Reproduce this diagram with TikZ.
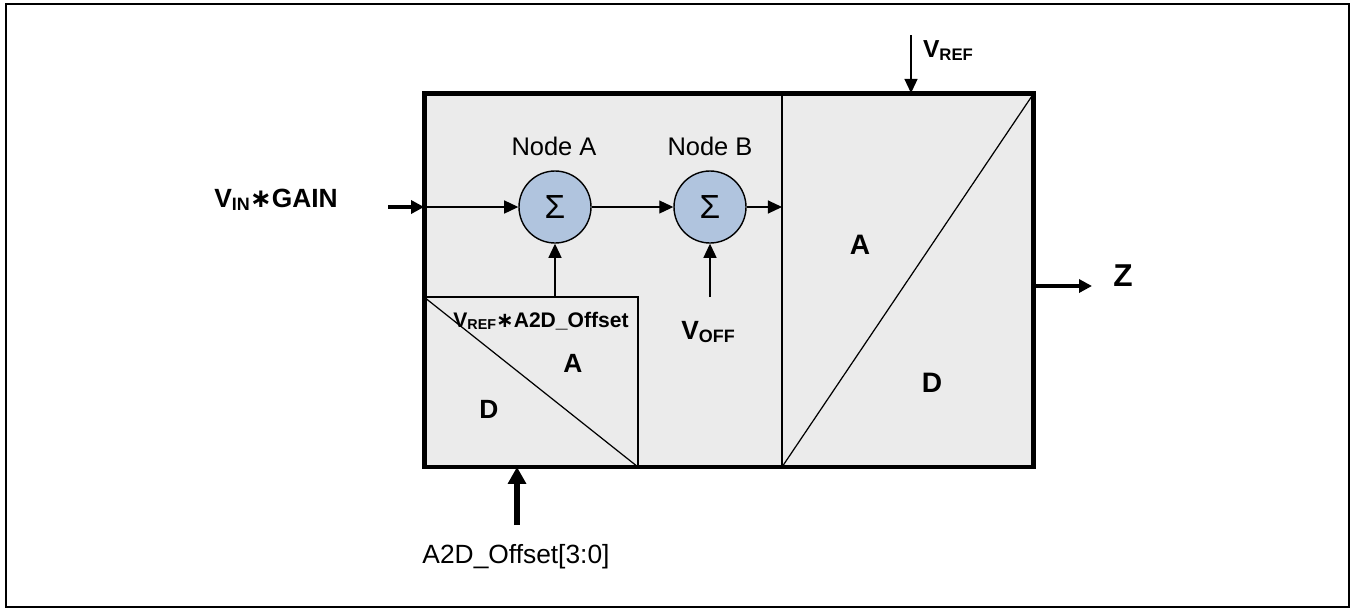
\documentclass[tikz,border=0pt]{standalone}
\usepackage{fontspec}
\setmainfont{Liberation Sans}
\newfontfamily\symfont{DejaVu Sans}
\usetikzlibrary{arrows.meta}
\definecolor{boxgray}{RGB}{235,235,235}
\definecolor{sumblue}{RGB}{176,196,222}
\newcommand{\lowtxt}[1]{\raisebox{-0.25ex}{\scalebox{0.68}{#1}}}
\newcommand{\bast}{{\symfont\bfseries ∗}}
\tikzset{
  sig/.style={-{Triangle[length=8pt,width=7.4pt]}, line width=0.7pt},
  bigsig/.style={-{Triangle[length=7.4pt,width=7.4pt]}, line width=2.2pt},
  hugesig/.style={-{Triangle[length=9.6pt,width=10pt]}, line width=3.4pt},
  sumnode/.style={circle, draw, fill=sumblue, line width=0.8pt, minimum size=2.04cm*0.706, inner sep=0pt, font=\fontsize{19}{19}\selectfont},
  lbl/.style={anchor=base, inner sep=0pt, font=\fontsize{14.5}{16}\selectfont},
  blbl/.style={anchor=base, inner sep=0pt, font=\bfseries\fontsize{15}{17}\selectfont}
}
\begin{document}
\begin{tikzpicture}[x=0.02cm, y=-0.02cm]
    \useasboundingbox (0,0) rectangle (1352,609);
    \draw[line width=1pt] (6,4) rectangle (1349,607);
    % converter block
    \node[fill=boxgray, minimum width=12.2cm, minimum height=7.48cm, outer sep=0pt, inner sep=0pt] (adc) at (729,280) {};
    \node[draw, line width=0.9pt, minimum width=4.28cm, minimum height=3.4cm, outer sep=0pt, inner sep=0pt] (dac) at (531,382) {};
    \draw[line width=0.7pt] (dac.north west) -- (dac.south east);
    \coordinate (divtop) at (782,93);
    \coordinate (divbot) at (782,467);
    \draw[line width=0.9pt] (divtop) -- (divbot);
    \draw[line width=0.7pt] (divbot) -- (adc.north east);
    \draw[line width=2.8pt] (adc.south west) rectangle (adc.north east);
    % summing nodes
    \node[sumnode] (sumA) at (555,207) {Σ};
    \node[sumnode] (sumB) at (710,207) {Σ};
    \node[lbl] (nodeA) at (554,155) {Node A};
    \node[lbl] (nodeB) at (710,155) {Node B};
    % signals
    \coordinate (vinstart) at (388,207);
    \draw[bigsig] (vinstart) -- (vinstart -| adc.west);
    \draw[sig] (adc.west |- sumA) -- (sumA);
    \draw[sig] (sumA) -- (sumB);
    \draw[sig] (sumB) -- (divtop |- sumB);
    \draw[sig] (dac.north -| sumA) -- (sumA);
    \coordinate (voffend) at (710,297);
    \draw[sig] (voffend) -- (sumB);
    \coordinate (vrefstart) at (911,35);
    \draw[sig] (vrefstart) -- (vrefstart |- adc.north);
    \coordinate (zend) at (1092,286);
    \draw[bigsig] (zend -| adc.east) -- (zend);
    \coordinate (offstart) at (517,525);
    \draw[hugesig] (offstart) -- (offstart |- adc.south);
    % labels
    \node[blbl] (vin) at (276,207) {V\lowtxt{IN}\bast GAIN};
    \node[blbl, font=\bfseries\fontsize{12}{14}\selectfont] (vrefoff) at (541,327) {V\lowtxt{REF}\bast A2D\_Offset};
    \node[blbl] (dacA) at (573,372) {A};
    \node[blbl] (dacD) at (489,418) {D};
    \node[blbl] (voff) at (708,339) {V\lowtxt{OFF}};
    \node[blbl, font=\bfseries\fontsize{14}{16}\selectfont] (vref) at (948,57) {V\lowtxt{REF}};
    \node[blbl, font=\bfseries\fontsize{16}{18}\selectfont] (adcA) at (860,254) {A};
    \node[blbl, font=\bfseries\fontsize{16}{18}\selectfont] (adcD) at (932,392) {D};
    \node[blbl, font=\bfseries\fontsize{18}{20}\selectfont] (zout) at (1123,286) {Z};
    \node[lbl, font=\fontsize{15}{17}\selectfont] (offin) at (516,563) {A2D\_Offset[3:0]};
\end{tikzpicture}
\end{document}
